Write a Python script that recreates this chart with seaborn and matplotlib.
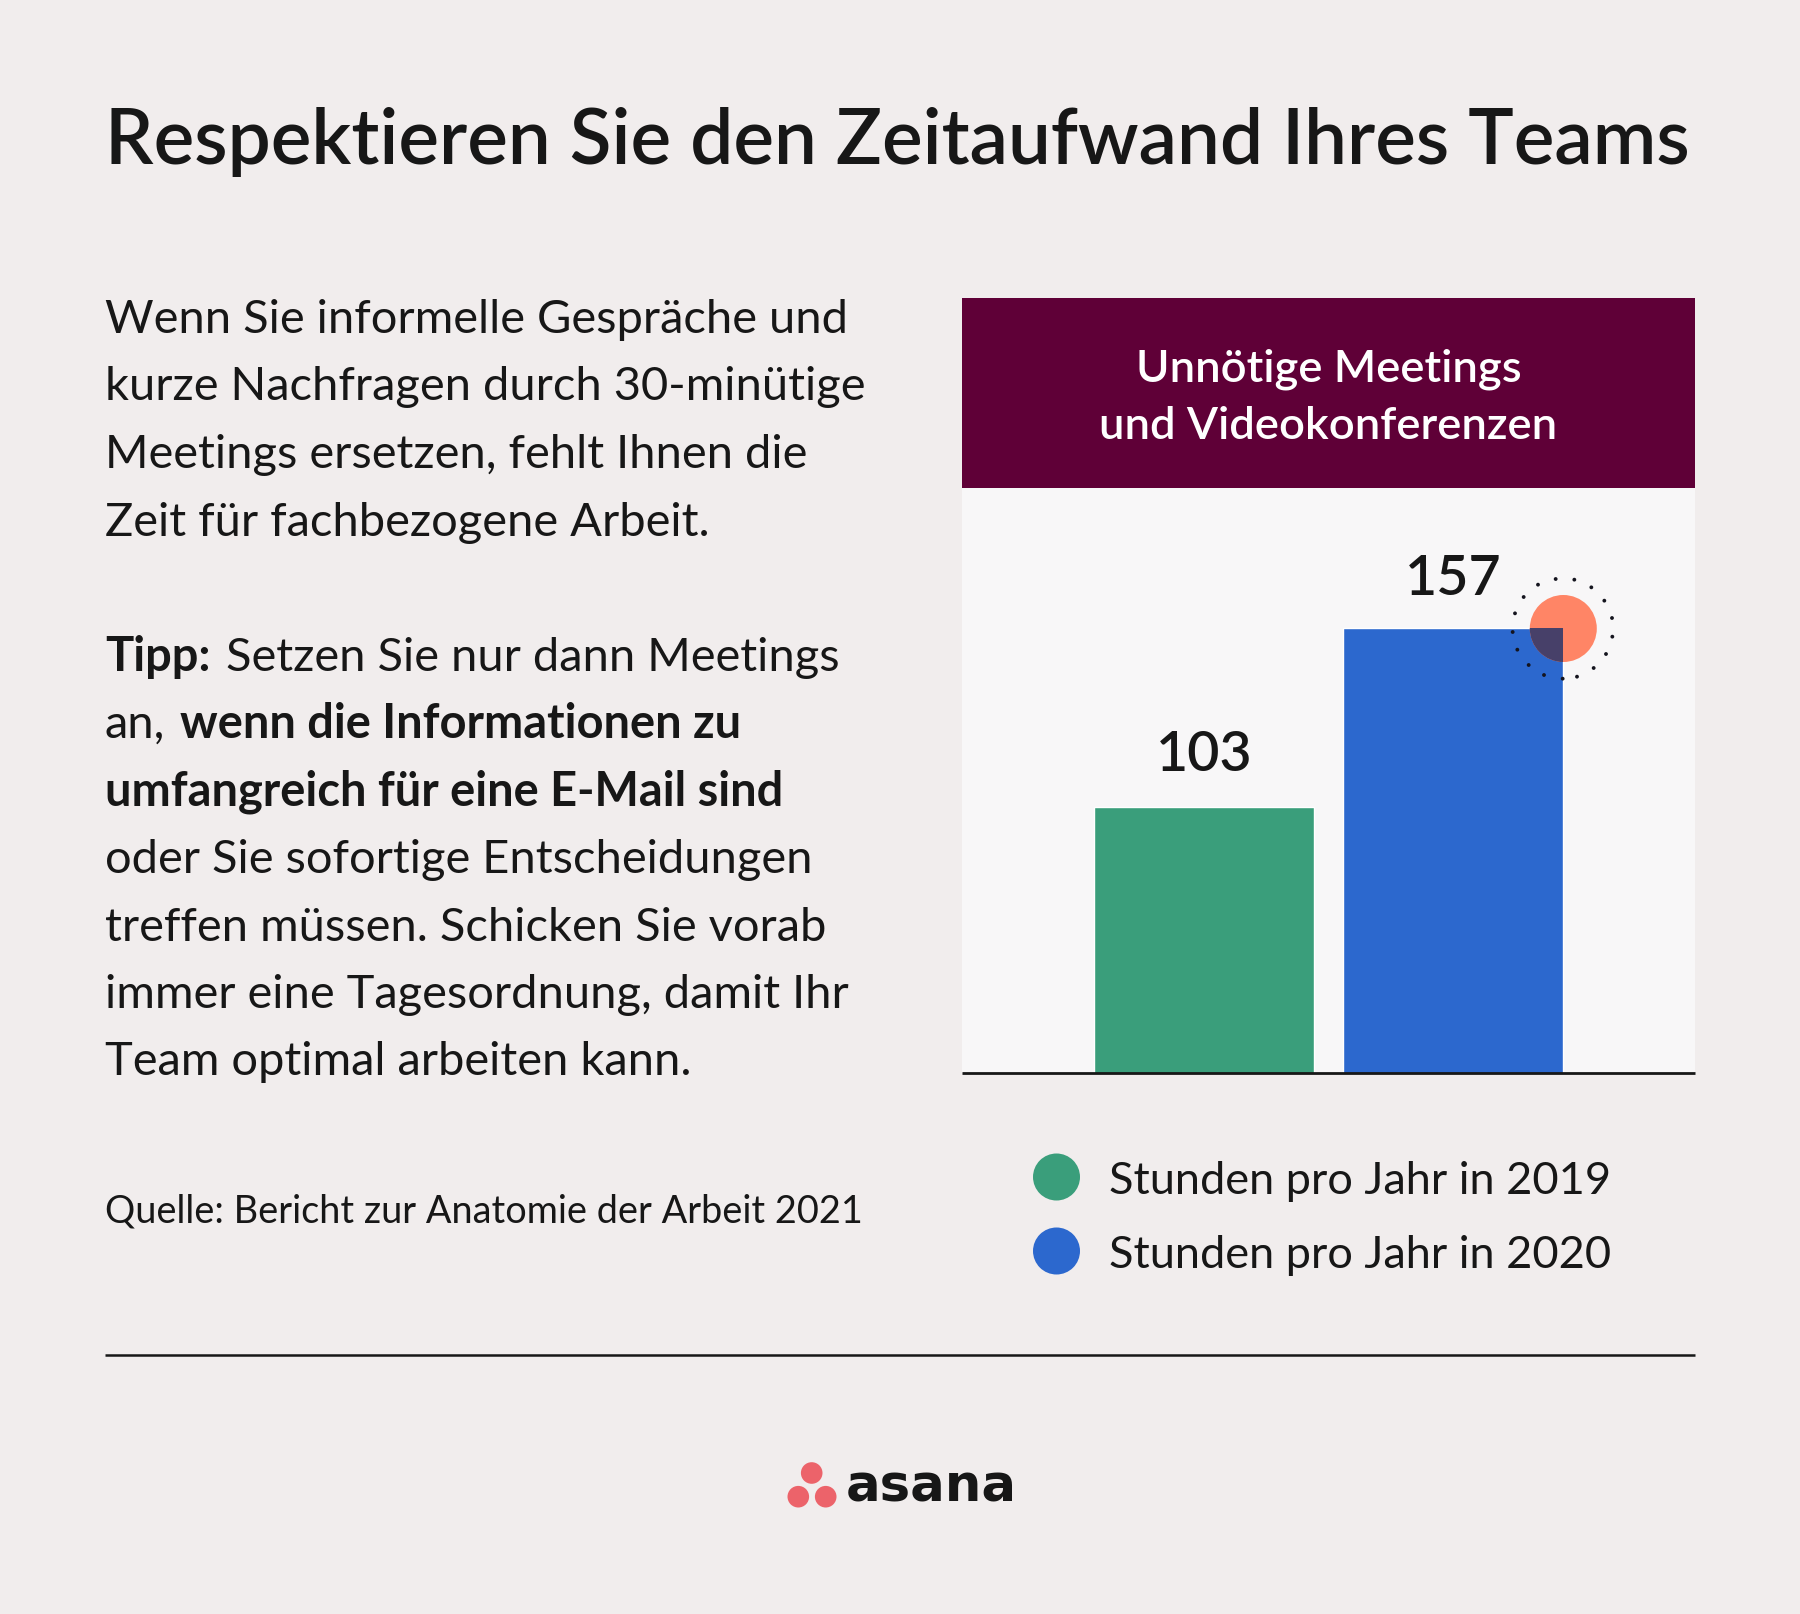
import matplotlib
matplotlib.use("Agg")
import matplotlib.pyplot as plt
from matplotlib.patches import Circle, Rectangle
import pandas as pd
import seaborn as sns

# ---- data ----
years = ["2019", "2020"]
hours = [103, 157]
bar_colors = ["#3A9E7B", "#2C68CE"]
legend_labels = ["Stunden pro Jahr in 2019", "Stunden pro Jahr in 2020"]
title = "Respektieren Sie den Zeitaufwand Ihres Teams"
panel_title = ["Unnötige Meetings", "und Videokonferenzen"]
source = "Quelle: Bericht zur Anatomie der Arbeit 2021"
logo_word = "asana"

# (x, baseline, text, bold)
body_runs = [
    (105, 333, "Wenn Sie informelle Gespräche und", False),
    (105, 400, "kurze Nachfragen durch 30-minütige", False),
    (105, 468, "Meetings ersetzen, fehlt Ihnen die", False),
    (105, 536, "Zeit für fachbezogene Arbeit.", False),
    (105, 671, "Tipp:", True),
    (226, 671, "Setzen Sie nur dann Meetings", False),
    (105, 738, "an,", False),
    (180, 738, "wenn die Informationen zu", True),
    (105, 806, "umfangreich für eine E-Mail sind", True),
    (105, 873, "oder Sie sofortige Entscheidungen", False),
    (105, 941, "treffen müssen. Schicken Sie vorab", False),
    (105, 1008, "immer eine Tagesordnung, damit Ihr", False),
    (105, 1075, "Team optimal arbeiten kann.", False),
]

W, H = 1800, 1615
BG = "#F1EDED"
INK = "#171717"
FONT = ["Lato", "DejaVu Sans"]

sns.set_theme(style="white")
plt.rcParams["font.family"] = FONT

fig = plt.figure(figsize=(W / 100, H / 100), dpi=100, facecolor=BG)

# ---- chart ----
ax = fig.add_axes([962 / W, 1 - 1074 / H, 733 / W, 585 / H], zorder=1)
ax.set_facecolor("#F8F7F8")
df = pd.DataFrame({"jahr": years, "stunden": hours})
sns.barplot(data=df, x="jahr", y="stunden", hue="jahr", palette=bar_colors,
            width=0.885, saturation=1, legend=False, ax=ax)
ax.set_xlim(-0.972, 1.972)
ax.set_ylim(22.8, 199.1)
ax.set_xlabel("")
ax.set_ylabel("")
ax.set_xticks([])
ax.set_yticks([])
sns.despine(ax=ax, left=True)
ax.spines["bottom"].set_linewidth(2)
ax.spines["bottom"].set_color(INK)
ax.spines["bottom"].set_capstyle("butt")
for container, pad in zip(ax.containers, [20, 17.5]):
    ax.bar_label(container, padding=pad, fontsize=40, color=INK, fontweight="semibold")

# ---- overlay in pixel coordinates ----
ov = fig.add_axes([0, 0, 1, 1], zorder=2)
ov.set_xlim(0, W)
ov.set_ylim(H, 0)
ov.axis("off")
ov.patch.set_visible(False)

# header band
ov.add_patch(Rectangle((962, 299), 733, 190, color="#5F0037", lw=0))
ov.text(1328.5, 381, panel_title[0], color="white", fontsize=32.7, fontweight="semibold",
        ha="center", va="baseline")
ov.text(1328.5, 439, panel_title[1], color="white", fontsize=32.7, fontweight="semibold",
        ha="center", va="baseline")

# title
ov.text(105, 164, title, color=INK, fontsize=55.1, fontweight="semibold", va="baseline")

# body
for x, y, s, bold in body_runs:
    ov.text(x, y, s, color=INK, fontsize=33.8, va="baseline",
            fontweight="bold" if bold else "normal")
ov.text(105, 1223, source, color=INK, fontsize=27.3, va="baseline")

# accent circle at the corner of the second bar
cx, cy, r = 1563.3, 629.5, 33.5
ov.add_patch(Circle((cx, cy), r, color="#FF8566", lw=0))
dark = Circle((cx, cy), r, color="#474069", lw=0)
ov.add_patch(dark)
dark.set_clip_path(ax.containers[1].patches[0])
dots_x = [227, 283, 334, 373, 396, 397, 378, 341, 291, 248, 192, 146, 112, 98, 105, 131, 174]
dots_y = [60, 62, 85, 125, 177, 233, 285, 327, 353, 359, 348, 318, 272, 219, 163, 114, 77]
for dx, dy in zip(dots_x, dots_y):
    ov.add_patch(Circle((1480 + dx / 3, 560 + dy / 3), 1.9, color="#14141E", lw=0))

# legend
for y, color, label in zip([1178, 1252], bar_colors, legend_labels):
    ov.add_patch(Circle((1056.5, y), 23.5, color=color, lw=0))
    ov.text(1109, y + 16, label, color=INK, fontsize=32.5, va="baseline")

# divider
ov.plot([105, 1695], [1355.5, 1355.5], color=INK, lw=1.8, solid_capstyle="butt")

# logo
for lx, ly in [(811.7, 1474), (798.3, 1497.7), (825.7, 1497.7)]:
    ov.add_patch(Circle((lx, ly), 10.8, color="#EC636A", lw=0))
ov.text(846, 1501.5, logo_word, color=INK, fontsize=37, fontweight="bold",
        family="DejaVu Sans", va="baseline")

fig.savefig("out.png", dpi=100, facecolor=BG)
